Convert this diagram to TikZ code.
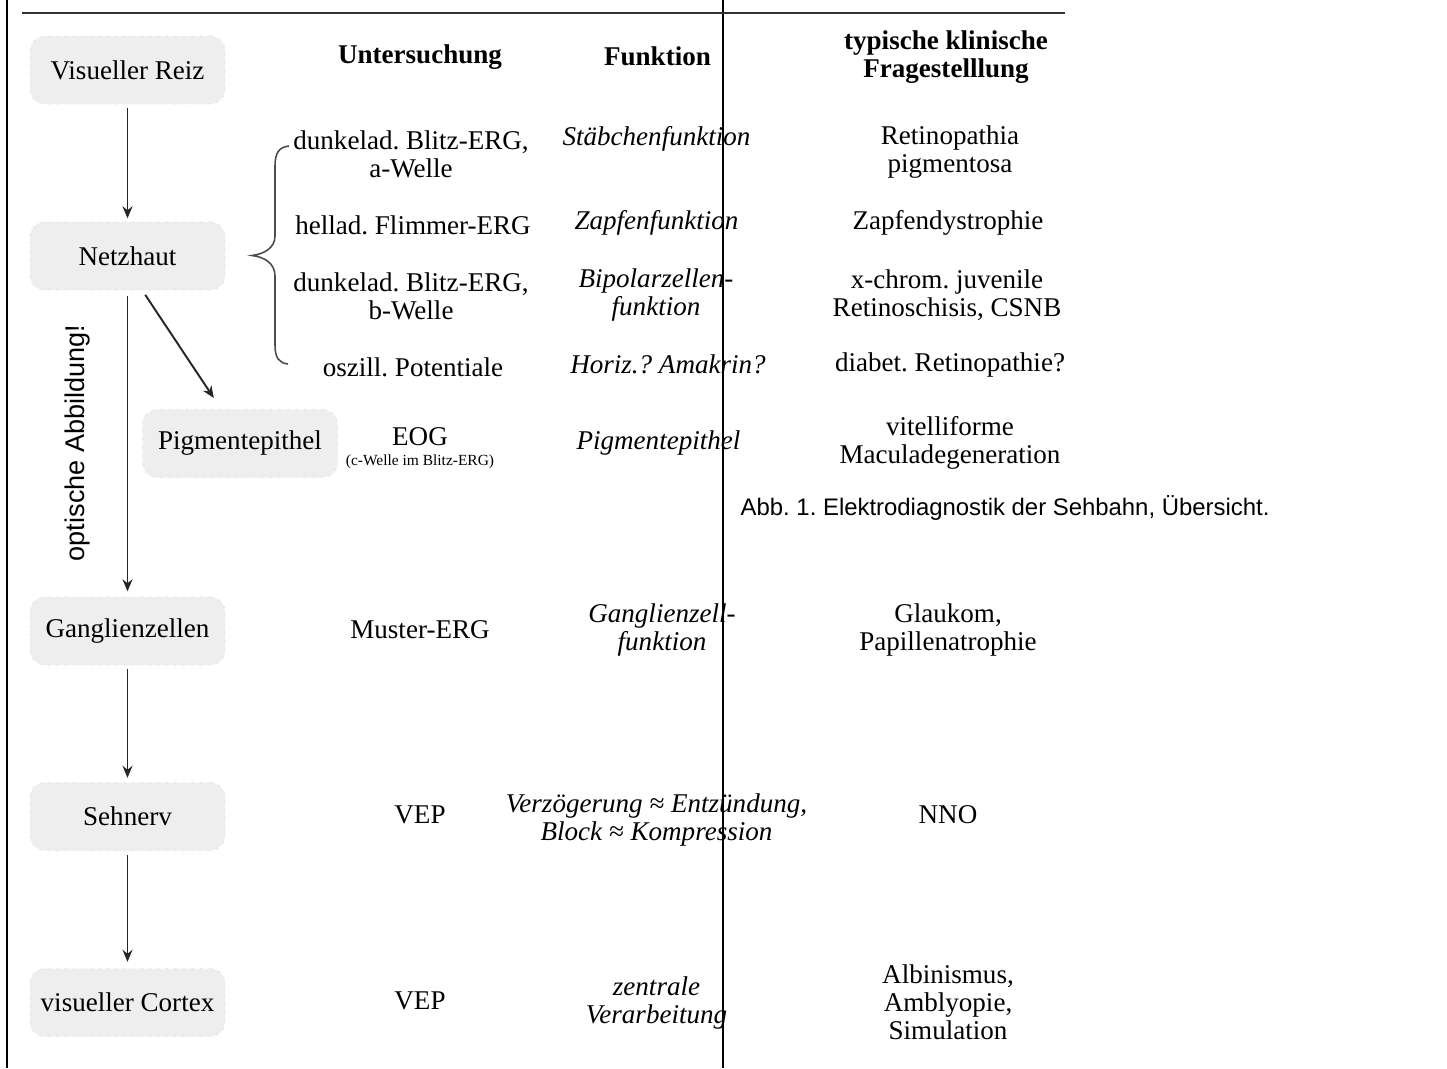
\documentclass[tikz,border=0pt]{standalone}
\usepackage{fontspec}
\setmainfont{Liberation Serif}
\setsansfont{Liberation Sans}
\usetikzlibrary{arrows.meta}
\frenchspacing

\begin{document}
\begin{tikzpicture}[x=1cm, y=-1cm, >={Stealth[length=1.2mm,width=1mm]},
  font=\fontsize{7.7}{7.97}\selectfont,
  stage/.style={draw=gray!22, dotted, fill=gray!13, rounded corners=1.5mm,
    minimum width=1.95cm, minimum height=0.68cm, inner sep=0pt},
  cell/.style={align=center, inner sep=0pt},
  func/.style={cell, font=\fontsize{7.7}{7.97}\selectfont\itshape},
  head/.style={cell, font=\fontsize{7.7}{7.97}\selectfont\bfseries},
  flow/.style={->, line width=0.55pt, black!85}]
  % page: 14.47 x 10.68, y runs downwards

  \useasboundingbox (0,0) rectangle (14.47,10.68);

  % --- frame lines ---
  \draw[line width=0.3pt] (0.07,0) -- (0.07,10.68);
  \draw[line width=0.3pt] (7.23,0) -- (7.23,10.68);
  \draw[line width=0.5pt, black!80] (0.22,0.13) -- (10.65,0.13);

  % --- stages of the visual pathway ---
  \node[stage] (reiz)   at (1.275,0.70)  {Visueller Reiz};
  \node[stage] (net)    at (1.275,2.56)  {Netzhaut};
  \node[stage] (pig)    at (2.40,4.435)  {Pigmentepithel};
  \node[stage] (gang)   at (1.275,6.31)  {Ganglienzellen};
  \node[stage] (nerv)   at (1.275,8.165) {Sehnerv};
  \node[stage] (cortex) at (1.275,10.025){visueller Cortex};

  % --- connections ---
  \draw[flow, shorten <=0.03cm, shorten >=0.03cm] (reiz) -- (net);
  \draw[flow, shorten <=0.05cm, shorten >=0.05cm] (net) -- (gang);
  \draw[flow, shorten <=0.05cm, shorten >=0.13cm]
    ([xshift=0.15cm]net.south) -- ([xshift=-0.19cm]pig.north);
  \draw[flow, shorten <=0.03cm, shorten >=0.04cm] (gang) -- (nerv);
  \draw[flow, shorten <=0.04cm, shorten >=0.06cm] (nerv) -- (cortex);

  \node[rotate=90, font=\fontsize{7.7}{8}\selectfont\sffamily] (optabb)
    at (0.77,4.43) {optische Abbildung!};

  % --- brace for the ERG rows ---
  \draw[line width=0.45pt, black!70]
    (2.89,1.46) .. controls (2.79,1.47) and (2.75,1.53) .. (2.75,1.66)
    -- (2.75,2.36) .. controls (2.75,2.48) and (2.64,2.54) .. (2.52,2.555)
    .. controls (2.64,2.57) and (2.75,2.63) .. (2.75,2.76)
    -- (2.75,3.45) .. controls (2.75,3.58) and (2.79,3.63) .. (2.88,3.64);

  % --- column heads ---
  \node[head] (hdunt)  at (4.20,0.575) {Untersuchung};
  \node[head] (hdfun)  at (6.575,0.56) {Funktion};
  \node[head] (hdfrag) at (9.46,0.57) {typische klinische\\Fragestelllung};

  % --- Untersuchung ---
  \node[cell] (u1) at (4.11,1.54) {dunkelad. Blitz-ERG,\\a-Welle};
  \node[cell] (u2) at (4.13,2.25) {hellad. Flimmer-ERG};
  \node[cell] (u3) at (4.11,2.96) {dunkelad. Blitz-ERG,\\b-Welle};
  \node[cell] (u4) at (4.13,3.67) {oszill. Potentiale};
  \node[cell] (u5) at (4.20,4.37) {EOG};
  \node[cell, font=\fontsize{4.4}{5}\selectfont] (u5s) at (4.20,4.62)
    {(c-Welle im Blitz-ERG)};
  \node[cell] (u6) at (4.20,6.30) {Muster-ERG};
  \node[cell] (u7) at (4.20,8.15) {VEP};
  \node[cell] (u8) at (4.20,10.01) {VEP};

  % --- Funktion ---
  \node[func] (f1) at (6.565,1.39) {Stäbchenfunktion};
  \node[func] (f2) at (6.565,2.23) {Zapfenfunktion};
  \node[func] (f3) at (6.56,2.95) {Bipolarzellen-\\funktion};
  \node[func] (f4) at (6.68,3.64) {Horiz.? Amakrin?};
  \node[func] (f5) at (6.585,4.43) {Pigmentepithel};
  \node[func] (f6) at (6.62,6.30) {Ganglienzell-\\funktion};
  \node[func] (f7) at (6.565,8.20) {Verzögerung ≈ Entzündung,\\Block ≈ Kompression};
  \node[func] (f8) at (6.565,10.03) {zentrale\\Verarbeitung};

  % --- klinische Fragestellung ---
  \node[cell] (q1) at (9.50,1.52) {Retinopathia\\pigmentosa};
  \node[cell] (q2) at (9.48,2.23) {Zapfendystrophie};
  \node[cell] (q3) at (9.47,2.95) {x-chrom. juvenile\\Retinoschisis, CSNB};
  \node[cell] (q4) at (9.50,3.65) {diabet. Retinopathie?};
  \node[cell] (q5) at (9.50,4.43) {vitelliforme\\Maculadegeneration};
  \node[cell] (q6) at (9.48,6.30) {Glaukom,\\Papillenatrophie};
  \node[cell] (q7) at (9.48,8.15) {NNO};
  \node[cell] (q8) at (9.48,10.02) {Albinismus,\\Amblyopie,\\Simulation};

  % --- caption ---
  \node[anchor=west, inner sep=0pt, font=\fontsize{6.8}{8}\selectfont\sffamily]
    (caption) at (7.40,5.08) {Abb. 1. Elektrodiagnostik der Sehbahn, Übersicht.};

\end{tikzpicture}
\end{document}
